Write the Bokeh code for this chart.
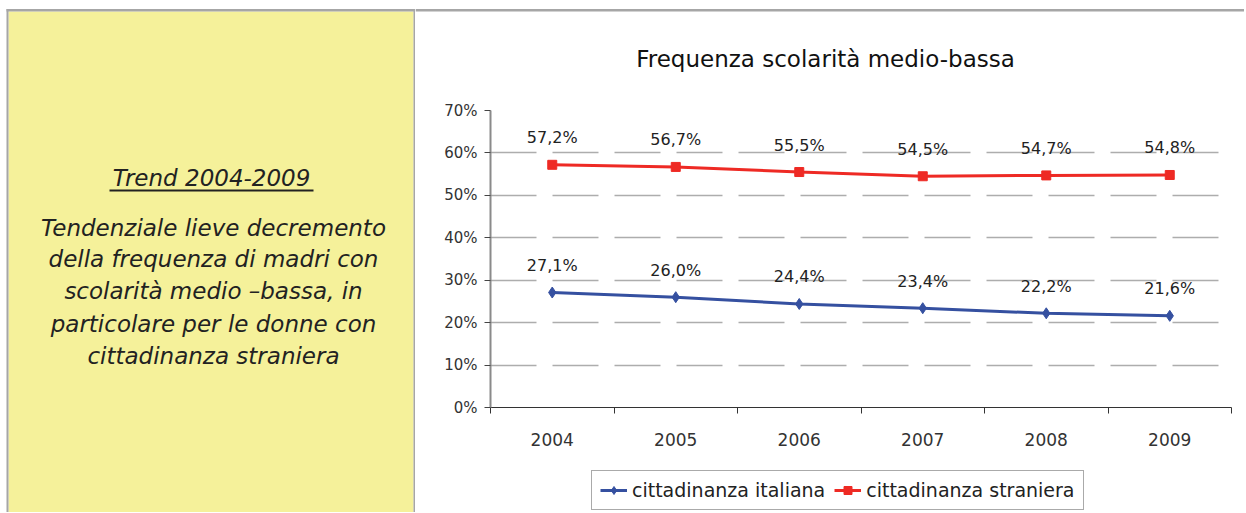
from bokeh.plotting import figure
from bokeh.layouts import row, column
from bokeh.models import (ColumnDataSource, FixedTicker, PrintfTickFormatter, Label,
                          Legend, LegendItem, Range1d)
from bokeh.core.properties import value
from bokeh.embed import file_html
from bokeh.resources import INLINE

# ---------------- data ----------------
years = ["2004", "2005", "2006", "2007", "2008", "2009"]
italiana = [27.1, 26.0, 24.4, 23.4, 22.2, 21.6]
straniera = [57.2, 56.7, 55.5, 54.5, 54.7, 54.8]
y_ticks = [0, 10, 20, 30, 40, 50, 60, 70]
title_text = "Frequenza scolarità medio-bassa"
series_names = ["cittadinanza italiana", "cittadinanza straniera"]
panel_title = "Trend 2004-2009"
panel_lines = ["Tendenziale lieve decremento",
               "della frequenza di madri con",
               "scolarità medio \u2013bassa, in",
               "particolare per le donne con",
               "cittadinanza straniera"]

H = 512
LW = 415
RW = 829
TH = 88
PH = 367
LH = H - TH - PH
GRAY = "#a6a6a6"
YELLOW = "#f5f19a"
TXT = "#222222"
BLUE = "#3550a0"
RED = "#ee2a24"


def blank(w, h, xr=None, yr=None):
    f = figure(width=w, height=h, output_backend="svg", toolbar_location=None,
               x_range=xr or Range1d(0, w), y_range=yr or Range1d(0, h),
               min_border=0, outline_line_color=None, frame_align=False)
    f.axis.visible = False
    f.grid.visible = False
    f.background_fill_color = "white"
    f.border_fill_color = "white"
    return f


# ---------------- left panel ----------------
lp = blank(LW, H)
lp.quad(left=[8], right=[413], bottom=[0], top=[501], fill_color=YELLOW, line_color=None)
lp.quad(left=[6, 6, 413], right=[LW, 8, LW], bottom=[501, 0, 0], top=[503.5, 503.5, 503.5],
        fill_color=GRAY, line_color=None)
lp.add_layout(Label(x=211, y=335, text=panel_title, text_align="center", text_baseline="middle",
                    text_font="DejaVu Sans", text_font_style="italic", text_font_size="23px",
                    text_color=TXT))
lp.segment(x0=[109], y0=[322], x1=[313], y1=[322], line_color=TXT, line_width=2)
line_y = [285, 254, 222, 189, 157]
for t, yy in zip(panel_lines, line_y):
    lp.add_layout(Label(x=213, y=yy, text=t, text_align="center", text_baseline="middle",
                        text_font="DejaVu Sans", text_font_style="italic",
                        text_font_size="23px", text_color=TXT))

# ---------------- title strip ----------------
tp = blank(RW, TH)
tp.quad(left=[0], right=[RW], bottom=[77], top=[79.5], fill_color=GRAY, line_color=None)
tp.add_layout(Label(x=410, y=30, text=title_text, text_align="center", text_baseline="middle",
                    text_font="DejaVu Sans", text_font_size="23px", text_color="#111111"))

# ---------------- chart ----------------
xs = [i + 0.5 for i in range(len(years))]
fmt = lambda v: f"{v:.1f}".replace(".", ",") + "%"
src_it = ColumnDataSource(dict(x=xs, y=italiana, lab=[fmt(v) for v in italiana]))
src_st = ColumnDataSource(dict(x=xs, y=straniera, lab=[fmt(v) for v in straniera]))

p = figure(width=RW, height=PH, output_backend="svg", toolbar_location=None,
           x_range=Range1d(0, len(years)), y_range=Range1d(0, 70),
           min_border_left=75, min_border_right=13, min_border_top=22, min_border_bottom=48,
           outline_line_color=None, frame_align=False)
p.background_fill_color = "white"
p.border_fill_color = "white"

p.yaxis.ticker = FixedTicker(ticks=y_ticks)
p.yaxis.formatter = PrintfTickFormatter(format="%d%%")
p.yaxis.axis_line_color = "#8a8a8a"
p.yaxis.axis_line_width = 2
p.yaxis.major_tick_line_color = "#444444"
p.yaxis.major_tick_out = 6
p.yaxis.major_tick_in = 0
p.yaxis.minor_tick_line_color = None
p.yaxis.major_label_text_font = "DejaVu Sans"
p.yaxis.major_label_text_font_size = "15px"
p.yaxis.major_label_text_color = "#333333"
p.yaxis.major_label_standoff = 7

p.xaxis.ticker = FixedTicker(ticks=xs, minor_ticks=list(range(len(years) + 1)))
p.xaxis.major_label_overrides = {x: y for x, y in zip(xs, years)}
p.xaxis.axis_line_color = "#333333"
p.xaxis.axis_line_width = 1.2
p.xaxis.major_tick_line_color = None
p.xaxis.major_tick_out = 0
p.xaxis.major_tick_in = 0
p.xaxis.minor_tick_line_color = "#333333"
p.xaxis.minor_tick_out = 6
p.xaxis.minor_tick_in = 0
p.xaxis.major_label_text_font = "DejaVu Sans"
p.xaxis.major_label_text_font_size = "17px"
p.xaxis.major_label_text_color = "#333333"
p.xaxis.major_label_standoff = 19

p.xgrid.visible = False
p.ygrid.grid_line_color = "#adadad"
p.ygrid.grid_line_width = 1.3
p.ygrid.grid_line_dash = "46 16"


def add_series(f):
    a = f.line("x", "y", source=src_it, line_color=BLUE, line_width=3)
    b = f.scatter("x", "y", source=src_it, marker="diamond", size=11,
                  fill_color=BLUE, line_color=BLUE)
    c = f.line("x", "y", source=src_st, line_color=RED, line_width=3)
    d = f.scatter("x", "y", source=src_st, marker="square", size=9,
                  fill_color=RED, line_color=RED)
    return a, b, c, d


add_series(p)
for s in (src_it, src_st):
    p.text("x", "y", text="lab", source=s, text_align="center", text_baseline="middle",
           y_offset=-27, text_font=value("DejaVu Sans"), text_font_size="16px",
           text_color="#222222")

# ---------------- legend strip ----------------
lg = blank(RW, LH, xr=Range1d(-20, -19), yr=Range1d(-20, -19))
l1, m1, l2, m2 = add_series(lg)
legend = Legend(items=[LegendItem(label=series_names[0], renderers=[l1, m1]),
                       LegendItem(label=series_names[1], renderers=[l2, m2])],
                orientation="horizontal", location=(176, 2),
                glyph_width=27, glyph_height=20, label_standoff=5, spacing=9,
                padding=8, margin=0,
                label_text_font="DejaVu Sans", label_text_font_size="19px",
                label_text_color="#222222",
                border_line_color="#555555", border_line_width=1,
                background_fill_color="white", background_fill_alpha=1)
lg.add_layout(legend)

layout = row(lp, column(tp, p, lg))
open("out.html", "w").write(file_html(layout, INLINE))
